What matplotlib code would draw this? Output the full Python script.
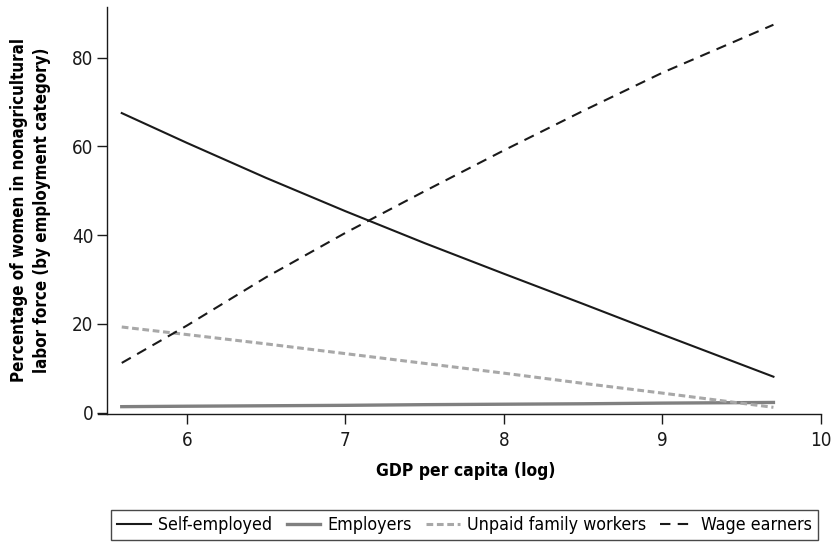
import matplotlib.pyplot as plt

# Datos
gdp = [5.59, 6.0, 6.5, 7.0, 7.5, 8.0, 8.5, 9.0, 9.7]
self_employed = [67.5, 60.8, 52.9, 45.4, 38.2, 31.3, 24.5, 17.6, 8.1]
employers = [1.35, 1.45, 1.55, 1.65, 1.8, 1.9, 2.0, 2.15, 2.3]
unpaid_family = [19.3, 17.6, 15.5, 13.3, 11.1, 8.9, 6.6, 4.4, 1.2]
wage_earners = [11.2, 19.6, 30.5, 40.5, 49.9, 59.1, 68.0, 76.6, 87.4]

x_ticks = [6, 7, 8, 9, 10]
y_ticks = [0, 20, 40, 60, 80]

plt.rcParams['font.family'] = ['DejaVu Sans']
plt.rcParams['font.stretch'] = 'condensed'

fig = plt.figure(figsize=(8.33, 5.43), dpi=100)
ax = fig.add_axes([0.1176, 0.2376, 0.868, 0.7495])

ax.plot(gdp, self_employed, color='#1a1a1a', linewidth=1.5, label='Self-employed')
ax.plot(gdp, employers, color='#808080', linewidth=2.4, label='Employers')
ax.plot(gdp, unpaid_family, color='#a8a8a8', linewidth=2.2, linestyle=(0, (2.2, 1.2)),
        label='Unpaid family workers')
ax.plot(gdp, wage_earners, color='#1a1a1a', linewidth=1.5, linestyle=(0, (5, 3.5)),
        label='Wage earners')

ax.set_xlim(5.44, 10.0)
ax.set_ylim(-0.3, 91.4)
ax.spines['left'].set_position(('data', 5.5))
ax.spines['left'].set_bounds(-0.3, 91.4)
ax.spines['top'].set_visible(False)
ax.spines['right'].set_visible(False)
for s in ['left', 'bottom']:
    ax.spines[s].set_linewidth(1.0)
    ax.spines[s].set_color('#1a1a1a')

ax.set_xticks(x_ticks)
ax.set_yticks(y_ticks)
ax.tick_params(axis='both', length=7, width=1.0, colors='#1a1a1a', labelsize=13.5, pad=5)
ax.tick_params(axis='y', pad=3)

ax.set_xlabel('GDP per capita (log)', fontsize=12.5, fontweight='bold')
ax.xaxis.set_label_coords(0.509, -0.118)
ax.set_ylabel('Percentage of women in nonagricultural\nlabor force (by employment category)',
              fontsize=12.2, fontweight='bold', labelpad=15, linespacing=1.35)

leg = fig.legend(loc='lower center', bbox_to_anchor=(0.558, 0.0), ncol=4, fontsize=12.8,
                 frameon=True, fancybox=False, edgecolor='#1a1a1a', handlelength=1.9,
                 columnspacing=0.8, handletextpad=0.4, borderpad=0.35, borderaxespad=0.15)
leg.get_frame().set_linewidth(1.0)

fig.savefig('out.png', dpi=100)
